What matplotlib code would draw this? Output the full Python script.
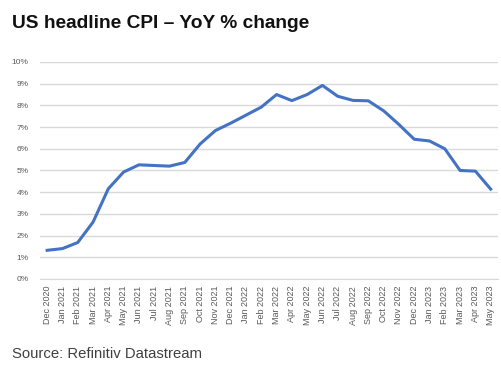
import matplotlib
matplotlib.use('Agg')
import matplotlib.pyplot as plt
from matplotlib.ticker import PercentFormatter

plt.rcParams['font.family'] = ['Liberation Sans', 'DejaVu Sans']

# Monthly US CPI, year-on-year % change
months = ['Dec 2020', 'Jan 2021', 'Feb 2021', 'Mar 2021', 'Apr 2021', 'May 2021',
          'Jun 2021', 'Jul 2021', 'Aug 2021', 'Sep 2021', 'Oct 2021', 'Nov 2021',
          'Dec 2021', 'Jan 2022', 'Feb 2022', 'Mar 2022', 'Apr 2022', 'May 2022',
          'Jun 2022', 'Jul 2022', 'Aug 2022', 'Sep 2022', 'Oct 2022', 'Nov 2022',
          'Dec 2022', 'Jan 2023', 'Feb 2023', 'Mar 2023', 'Apr 2023', 'May 2023']
cpi_yoy = [1.32, 1.40, 1.68, 2.62, 4.16, 4.93, 5.26, 5.23, 5.20, 5.37,
           6.22, 6.84, 7.18, 7.55, 7.92, 8.50, 8.22, 8.50, 8.92, 8.42,
           8.23, 8.21, 7.75, 7.12, 6.44, 6.36, 6.00, 5.00, 4.97, 4.14]

fig = plt.figure(figsize=(5.02, 3.69), dpi=100)
ax = fig.add_axes([0.0787, 0.244, 0.914, 0.588])

x = range(len(months))
ax.plot(x, cpi_yoy, color='#4472C4', linewidth=2.2, solid_joinstyle='round')

ax.set_xlim(-0.5, len(months) - 0.5)
ax.set_ylim(0, 10)
ax.set_yticks(range(0, 11))
ax.yaxis.set_major_formatter(PercentFormatter(decimals=0))
ax.set_xticks(list(x))
ax.set_xticklabels(months, rotation=90)

ax.grid(axis='y', color='#d9d9d9', linewidth=1)
ax.set_axisbelow(True)
for side in ['top', 'right', 'left']:
    ax.spines[side].set_visible(False)
ax.spines['bottom'].set_color('#d9d9d9')
ax.tick_params(axis='y', length=0, labelsize=6, labelcolor='#595959', pad=8)
ax.tick_params(axis='x', length=0, labelsize=6.5, labelcolor='#595959', pad=5)

fig.text(0.024, 0.96, 'US headline CPI \u2013 YoY % change', fontsize=13.8,
         fontweight='bold', color='#111111', va='top')
fig.text(0.024, 0.03, 'Source: Refinitiv Datastream', fontsize=10.7,
         color='#404040', va='baseline')

fig.savefig('out.png', dpi=100)
